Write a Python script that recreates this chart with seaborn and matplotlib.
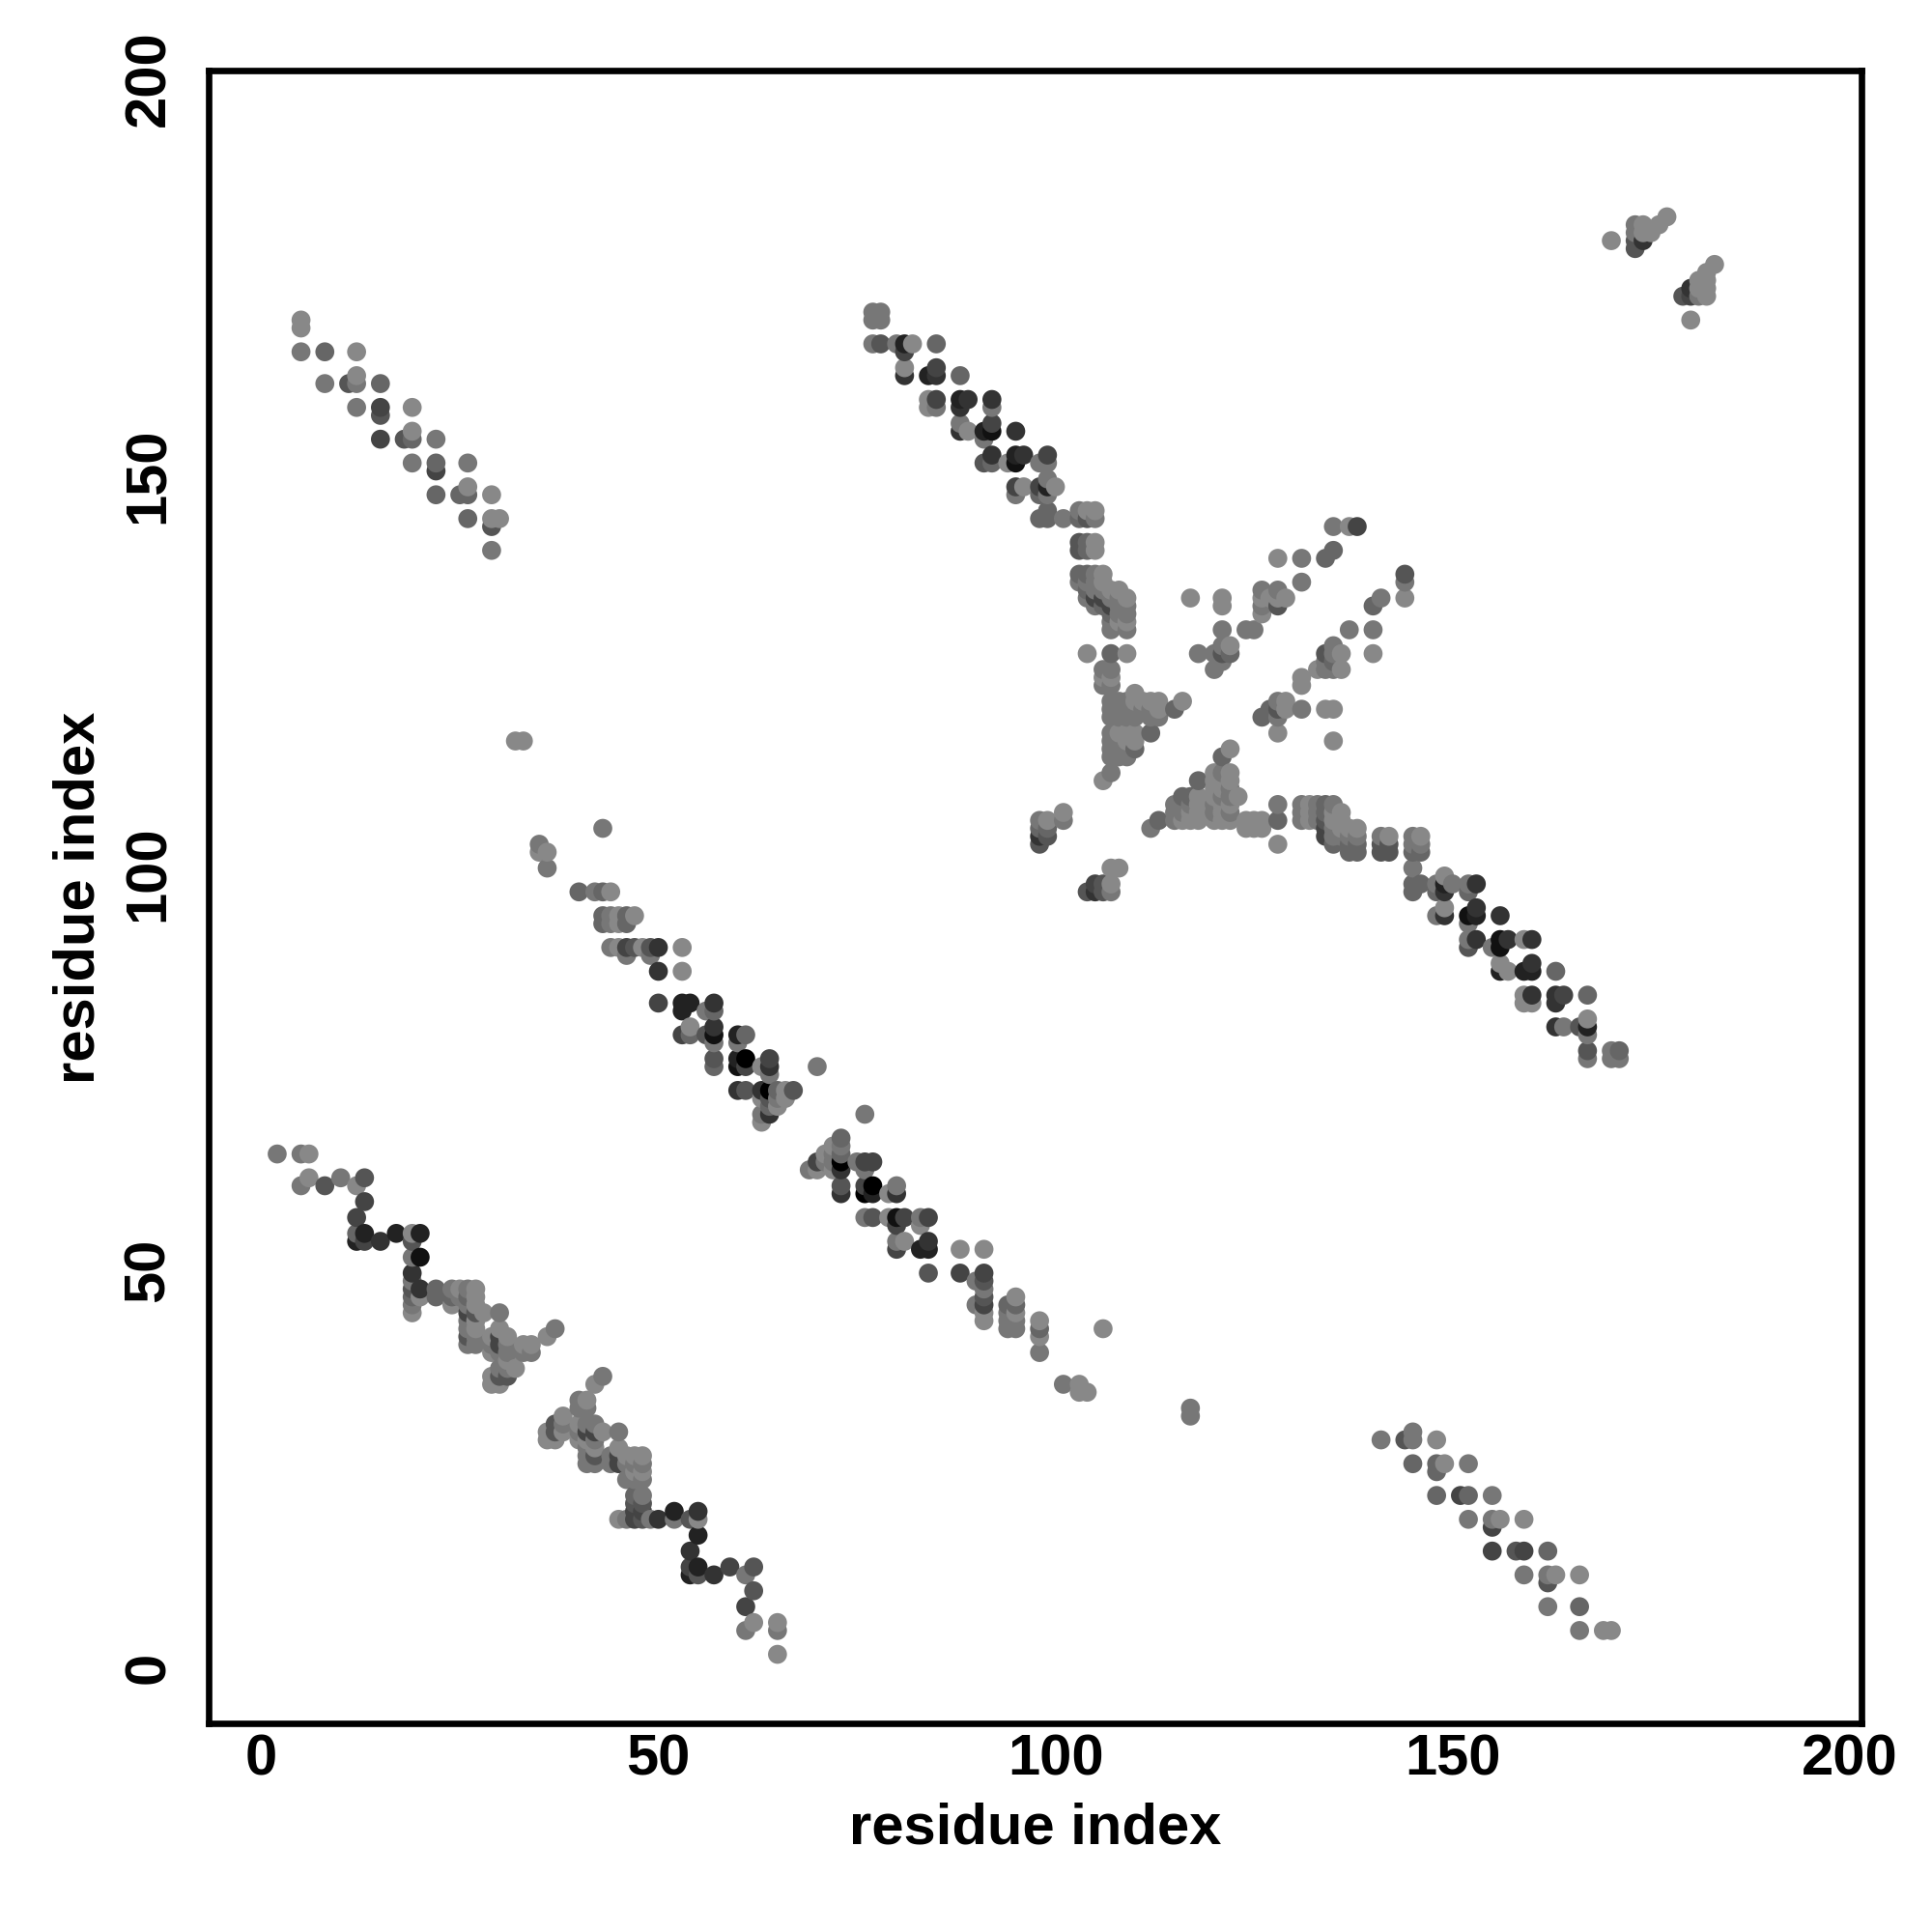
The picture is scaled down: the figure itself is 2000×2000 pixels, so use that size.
import pandas as pd
import matplotlib
matplotlib.use("Agg")
import matplotlib.pyplot as plt
from matplotlib.transforms import ScaledTranslation
import seaborn as sns

# =========================================================
# 1. contacts: (residue i, residue j, strength)
#    strength 0 = lightest dot, 8 = black dot
# =========================================================
band_a_head = [
    (2, 65, 1), (5, 65, 1), (6, 65, 0), (5, 61, 1), (6, 62, 0), (8, 61, 3), (10, 62, 1),
    (12, 61, 0), (13, 62, 3), (13, 59, 4), (12, 57, 4), (12, 55, 2), (13, 55, 6), (12, 54, 6),
    (13, 54, 4), (15, 54, 5), (17, 55, 6), (19, 55, 0), (20, 55, 6), (19, 54, 3), (19, 52, 1),
    (20, 52, 7), (19, 50, 5), (19, 49, 1), (19, 48, 3), (20, 48, 5), (19, 47, 2), (20, 47, 0),
    (19, 46, 1), (19, 45, 0), (22, 48, 2), (22, 47, 2),
]
band_a_blob = [
    (24, 48, 1), (25, 48, 0), (26, 48, 1), (27, 48, 0), (24, 47, 2), (25, 47, 1), (26, 47, 2),
    (27, 47, 0), (24, 46, 0), (26, 46, 1), (27, 46, 0), (26, 45, 4), (27, 45, 3), (28, 45, 0),
    (30, 45, 1), (26, 44, 1), (27, 44, 0), (26, 43, 1), (27, 43, 0), (30, 43, 0), (26, 42, 3),
    (27, 42, 1), (26, 41, 1), (27, 41, 1), (29, 42, 0), (30, 42, 4), (31, 42, 0), (29, 41, 1),
    (30, 41, 4), (31, 41, 1), (29, 40, 0), (30, 40, 1), (31, 40, 1), (31, 39, 0), (33, 41, 0),
    (34, 41, 0), (33, 40, 1), (34, 40, 1), (36, 42, 0), (37, 43, 1), (30, 38, 1), (31, 38, 1),
    (32, 38, 0), (29, 37, 0), (30, 37, 3), (31, 37, 3), (29, 36, 0), (30, 36, 0),
]
band_a_second = [
    (43, 37, 1), (42, 36, 0), (40, 34, 1), (41, 34, 0), (40, 33, 1), (41, 33, 1), (38, 32, 0),
    (37, 31, 3), (38, 31, 1), (36, 30, 0), (37, 30, 3), (38, 30, 0), (36, 29, 0), (37, 29, 0),
    (40, 31, 0), (41, 31, 1), (42, 31, 1), (40, 30, 1), (41, 30, 4), (42, 30, 4), (43, 30, 0),
    (45, 30, 1), (40, 29, 0), (41, 29, 0), (42, 29, 1), (41, 28, 1), (42, 28, 0), (41, 27, 1),
    (42, 27, 3), (41, 26, 1), (42, 26, 1), (44, 27, 1), (44, 26, 1), (45, 28, 0), (45, 27, 4),
    (45, 26, 4), (46, 27, 0), (47, 27, 0), (48, 27, 0), (46, 26, 1), (47, 26, 1), (48, 26, 1),
    (47, 25, 0), (48, 25, 0), (46, 24, 1), (47, 24, 1), (48, 24, 1), (47, 22, 2), (48, 22, 1),
    (47, 21, 3), (48, 21, 3), (47, 20, 4), (48, 20, 4), (45, 19, 0), (46, 19, 1), (47, 19, 4),
    (48, 19, 3), (49, 19, 1), (50, 19, 5), (52, 20, 6), (52, 19, 1), (54, 19, 3), (55, 20, 5),
    (55, 19, 0), (55, 17, 6), (54, 15, 5), (54, 13, 4), (55, 13, 6), (54, 12, 6), (55, 12, 3),
    (57, 12, 5), (59, 13, 4), (61, 12, 1), (62, 13, 3), (62, 10, 3), (61, 8, 4), (62, 6, 0),
    (61, 5, 1), (65, 6, 0), (65, 5, 1), (65, 2, 0),
]
band_b_upper = [
    (32, 117, 0), (33, 117, 0), (35, 104, 1), (35, 103, 0), (36, 103, 0), (36, 101, 1), (43, 106, 1),
    (40, 98, 2), (42, 98, 1), (43, 98, 2), (44, 98, 0), (43, 95, 2), (44, 95, 1), (45, 95, 0),
    (46, 95, 2), (47, 95, 0), (43, 94, 2), (44, 94, 1), (45, 94, 0), (46, 94, 2), (44, 91, 1),
    (45, 91, 0), (46, 91, 4), (47, 91, 3), (48, 91, 0), (49, 91, 3), (50, 91, 5), (46, 90, 1),
    (49, 90, 1), (53, 91, 0), (50, 88, 5), (53, 88, 0), (50, 84, 4), (53, 84, 6), (54, 84, 6),
    (53, 83, 6), (56, 83, 1), (57, 84, 5), (57, 83, 2), (53, 80, 4), (54, 81, 0), (54, 80, 2),
    (56, 80, 3), (57, 81, 5), (57, 80, 7), (57, 79, 1), (60, 80, 6), (61, 80, 2), (60, 79, 1),
    (57, 77, 3), (57, 76, 2), (60, 77, 6), (61, 77, 8), (60, 76, 7), (61, 76, 4), (63, 76, 0),
    (64, 77, 4), (64, 76, 5), (64, 75, 1), (70, 76, 1), (60, 73, 5), (61, 73, 3), (63, 73, 5),
    (64, 73, 8), (65, 73, 2), (66, 73, 0), (67, 73, 3), (63, 72, 0), (64, 72, 3), (65, 72, 1),
    (66, 72, 0), (64, 71, 2), (65, 71, 0), (63, 70, 1), (64, 70, 5), (63, 69, 0), (76, 70, 1),
]
band_b_lower = [
    (73, 67, 2), (72, 66, 0), (73, 66, 1), (71, 65, 0), (72, 65, 1), (73, 65, 2), (70, 64, 4),
    (71, 64, 1), (72, 64, 1), (73, 64, 8), (69, 63, 1), (70, 63, 0), (72, 63, 0), (73, 63, 5),
    (75, 64, 1), (76, 64, 4), (77, 64, 4), (76, 63, 1), (73, 61, 3), (73, 60, 5), (76, 61, 4),
    (77, 61, 8), (76, 60, 8), (77, 60, 6), (79, 60, 0), (80, 61, 1), (80, 60, 5), (76, 57, 1),
    (77, 57, 3), (79, 57, 0), (80, 57, 7), (81, 57, 4), (80, 56, 4), (83, 57, 1), (84, 57, 4),
    (83, 56, 0), (80, 54, 1), (81, 54, 0), (80, 53, 4), (83, 53, 6), (84, 54, 5), (84, 53, 6),
    (84, 50, 3), (88, 53, 0), (91, 53, 0), (88, 50, 4), (91, 50, 4), (90, 49, 1), (91, 49, 3),
    (91, 48, 1), (91, 47, 3), (91, 46, 4), (90, 46, 1), (91, 45, 0), (91, 44, 0), (95, 47, 0),
    (94, 46, 2), (95, 46, 2), (94, 45, 1), (95, 45, 0), (94, 44, 1), (95, 44, 1), (94, 43, 1),
    (95, 43, 1), (98, 44, 0), (98, 43, 2), (98, 42, 0), (98, 40, 1), (106, 43, 0), (101, 36, 1),
    (103, 36, 0), (103, 35, 0), (104, 35, 0), (117, 33, 1), (117, 32, 1),
]
corner_low_right = [
    (141, 29, 1), (144, 29, 3), (145, 30, 1), (145, 29, 1), (148, 29, 0), (145, 26, 2), (148, 26, 2),
    (149, 26, 0), (148, 25, 2), (152, 26, 1), (148, 22, 2), (151, 22, 4), (152, 22, 2), (155, 22, 1),
    (152, 19, 1), (155, 19, 1), (156, 19, 0), (155, 18, 4), (159, 19, 0), (155, 15, 4), (158, 15, 3),
    (159, 15, 4), (162, 15, 2), (159, 12, 1), (162, 12, 1), (163, 12, 0), (162, 11, 3), (166, 12, 0),
    (162, 8, 1), (166, 8, 2), (166, 5, 1), (169, 5, 0), (170, 5, 0),
]
corner_up_left = [
    (5, 170, 0), (5, 169, 0), (5, 166, 1), (8, 166, 2), (12, 166, 0), (8, 162, 1), (11, 162, 3),
    (12, 163, 0), (12, 162, 1), (15, 162, 2), (12, 159, 1), (15, 159, 4), (15, 158, 3), (19, 159, 0),
    (15, 155, 4), (18, 155, 3), (19, 156, 0), (19, 155, 2), (22, 155, 1), (19, 152, 1), (22, 152, 2),
    (22, 151, 4), (26, 152, 1), (22, 148, 2), (25, 148, 2), (26, 149, 0), (26, 148, 2), (29, 148, 0),
    (26, 145, 2), (29, 145, 0), (30, 145, 0), (29, 144, 3), (29, 141, 1),
]
corner_up_right = [
    (170, 180, 0), (173, 182, 1), (174, 182, 0), (173, 181, 1), (174, 181, 0), (175, 181, 0), (173, 180, 3),
    (174, 180, 5), (173, 179, 3), (176, 182, 0), (177, 183, 0), (183, 177, 0), (182, 176, 0), (181, 175, 0),
    (182, 175, 0), (180, 174, 5), (181, 174, 0), (182, 174, 0), (179, 173, 3), (180, 173, 4), (181, 173, 1),
    (182, 173, 0), (180, 170, 0),
]
band_c_upper = [
    (77, 171, 1), (78, 171, 1), (77, 170, 1), (78, 170, 1), (77, 167, 1), (78, 167, 3), (80, 167, 1),
    (81, 167, 6), (82, 167, 0), (81, 166, 4), (81, 164, 0), (81, 163, 5), (85, 167, 2), (84, 163, 6),
    (85, 164, 4), (85, 163, 5), (88, 163, 2), (84, 160, 0), (85, 160, 4), (84, 159, 0), (85, 159, 1),
    (88, 160, 6), (89, 160, 5), (88, 159, 5), (92, 160, 5), (92, 159, 1), (88, 157, 1), (89, 156, 0),
    (88, 156, 5), (91, 156, 6), (92, 157, 4), (92, 156, 7), (91, 155, 1), (95, 156, 5), (92, 153, 5),
    (91, 152, 3), (92, 152, 2), (94, 152, 0), (95, 153, 6), (95, 152, 7), (96, 153, 5), (98, 152, 1),
    (99, 153, 4), (99, 152, 1), (95, 149, 4), (96, 149, 0), (95, 148, 1), (98, 149, 4), (99, 150, 1),
    (99, 149, 6), (100, 149, 0), (98, 148, 2), (99, 148, 1), (98, 145, 2), (99, 146, 2), (99, 145, 2),
    (101, 145, 1), (103, 146, 1), (104, 146, 0), (105, 146, 0), (103, 145, 2), (104, 145, 3), (105, 145, 1),
    (103, 142, 3), (104, 142, 2), (105, 142, 0), (103, 141, 3), (104, 141, 2), (105, 141, 0),
]
band_c_knot = [
    (103, 138, 2), (104, 138, 2), (105, 138, 1), (106, 138, 0), (103, 137, 1), (104, 137, 1), (105, 137, 1),
    (106, 137, 0), (104, 136, 2), (105, 136, 1), (106, 136, 1), (107, 136, 0), (108, 136, 0), (104, 135, 1),
    (105, 135, 4), (106, 135, 4), (107, 135, 1), (108, 135, 1), (109, 135, 0), (105, 134, 1), (106, 134, 2),
    (107, 134, 4), (108, 134, 1), (109, 134, 1), (107, 133, 2), (108, 133, 1), (109, 133, 1), (107, 132, 1),
    (108, 132, 0), (109, 132, 0), (107, 131, 1), (109, 131, 1), (104, 128, 0), (107, 128, 2), (109, 128, 0),
    (106, 126, 1), (107, 126, 1), (106, 125, 0), (107, 125, 0), (106, 124, 1), (107, 124, 1),
]
x_left_arm = [
    (107, 122, 1), (108, 122, 1), (109, 122, 1), (110, 122, 0), (110, 123, 0), (107, 121, 1), (108, 121, 1),
    (109, 121, 1), (110, 121, 1), (111, 122, 0), (107, 120, 1), (108, 120, 1), (109, 120, 1), (110, 120, 1),
    (111, 121, 1), (112, 122, 0), (113, 122, 0), (112, 121, 1), (113, 121, 0), (112, 120, 1), (113, 120, 1),
    (115, 121, 2), (116, 122, 0), (112, 118, 2), (107, 118, 1), (108, 118, 0), (109, 118, 0), (110, 118, 0),
    (107, 117, 1), (108, 117, 1), (109, 117, 0), (110, 117, 0), (107, 116, 1), (108, 116, 1), (109, 116, 1),
    (110, 116, 2), (107, 115, 1), (108, 115, 1), (109, 115, 1), (107, 113, 1), (106, 112, 0), (98, 107, 1),
    (99, 107, 0), (98, 106, 2), (99, 106, 2), (98, 105, 5), (99, 105, 3), (98, 104, 3), (101, 108, 0),
    (101, 107, 1), (107, 101, 0), (108, 101, 0), (104, 98, 3), (105, 99, 4), (105, 98, 5), (106, 99, 3),
    (106, 98, 3), (107, 99, 0), (107, 98, 1),
]
x_lower_arm = [
    (122, 116, 0), (121, 115, 2), (120, 113, 0), (121, 113, 1), (122, 113, 0), (120, 112, 0), (121, 112, 0),
    (122, 112, 0), (118, 112, 2), (120, 111, 0), (121, 111, 0), (122, 111, 1), (120, 110, 0), (121, 110, 1),
    (122, 110, 1), (123, 110, 0), (118, 110, 0), (117, 110, 2), (116, 110, 2), (115, 109, 1), (116, 109, 1),
    (117, 109, 1), (118, 109, 0), (115, 108, 1), (116, 108, 1), (117, 108, 0), (118, 108, 0), (115, 107, 1),
    (116, 107, 0), (117, 107, 0), (118, 107, 0), (120, 109, 1), (121, 109, 0), (122, 109, 0), (120, 108, 1),
    (121, 108, 0), (122, 108, 1), (120, 107, 0), (121, 107, 0), (122, 107, 0), (113, 107, 2), (112, 106, 1),
    (124, 107, 0), (125, 107, 0), (126, 107, 0), (124, 106, 0), (125, 106, 0), (126, 106, 0), (128, 109, 1),
    (128, 107, 2), (128, 104, 0),
]
band_d_start = [
    (131, 109, 1), (132, 109, 0), (133, 109, 1), (134, 109, 2), (135, 109, 1), (131, 108, 1), (132, 108, 0),
    (133, 108, 1), (134, 108, 2), (135, 108, 0), (136, 108, 0), (131, 107, 1), (132, 107, 0), (133, 107, 1),
    (134, 107, 3), (135, 107, 0), (136, 107, 0), (134, 106, 4), (135, 106, 1), (136, 106, 0), (134, 105, 4),
    (135, 105, 1), (136, 105, 1), (135, 104, 2), (137, 106, 0), (138, 106, 0), (137, 105, 1), (138, 105, 1),
    (137, 104, 2), (138, 104, 2), (137, 103, 2), (138, 103, 2), (141, 105, 1), (142, 105, 0), (141, 104, 3),
    (142, 104, 3), (141, 103, 3), (142, 103, 3), (145, 105, 1), (146, 105, 0), (145, 104, 1), (146, 104, 1),
    (145, 103, 2), (146, 103, 2), (145, 101, 1), (145, 99, 2), (146, 99, 2), (145, 98, 2), (148, 99, 1),
    (149, 100, 0), (149, 99, 6), (150, 99, 1), (148, 98, 2), (149, 98, 5), (152, 99, 1), (153, 99, 5),
    (152, 98, 2), (148, 95, 1), (149, 96, 0), (149, 95, 5), (152, 95, 7), (153, 96, 5), (153, 95, 6),
    (152, 94, 1), (156, 95, 5), (152, 92, 1), (153, 92, 5), (152, 91, 3), (155, 91, 1), (156, 92, 7),
    (157, 92, 5), (156, 91, 7), (159, 92, 0), (160, 92, 5), (156, 89, 0), (156, 88, 6), (157, 88, 0),
    (159, 88, 6), (160, 89, 5), (160, 88, 6), (163, 88, 2), (159, 85, 0), (160, 85, 5), (159, 84, 0),
    (160, 84, 0), (163, 85, 5), (164, 85, 4), (163, 84, 5), (167, 85, 2), (163, 81, 5), (164, 81, 1),
    (166, 81, 3), (167, 82, 0), (167, 81, 6), (167, 80, 1), (167, 78, 3), (167, 77, 1), (170, 78, 1),
    (171, 78, 2), (170, 77, 1), (171, 77, 1),
]
x_upper_arm = [
    (135, 144, 1), (137, 144, 0), (138, 144, 4), (135, 141, 2), (134, 140, 2), (131, 140, 1), (128, 140, 0),
    (131, 137, 1), (144, 138, 3), (144, 137, 1), (144, 135, 0), (141, 135, 1), (140, 134, 2), (126, 136, 1),
    (128, 136, 1), (126, 135, 0), (126, 134, 1), (126, 133, 0), (127, 135, 0), (128, 135, 0), (129, 135, 0),
    (128, 134, 3), (121, 135, 0), (121, 134, 0), (121, 131, 1), (124, 131, 1), (125, 131, 1), (137, 131, 1),
    (140, 131, 1), (140, 128, 0), (135, 129, 1), (134, 128, 3), (135, 128, 1), (136, 128, 0), (133, 126, 0),
    (134, 126, 1), (135, 126, 1), (136, 126, 0), (134, 127, 1), (135, 127, 2), (131, 125, 0), (131, 124, 0),
    (117, 135, 0), (118, 128, 1), (120, 128, 1), (121, 129, 1), (122, 129, 0), (121, 128, 3), (122, 128, 2),
    (121, 127, 1), (120, 126, 1), (126, 120, 2), (127, 121, 2), (128, 122, 1), (129, 122, 0), (128, 121, 3),
    (129, 121, 0), (128, 120, 1), (128, 118, 0), (131, 121, 1), (134, 121, 0), (135, 121, 0), (135, 117, 0),
]

segments = [
    band_a_head, band_a_blob, band_a_second, band_b_upper, band_b_lower, corner_low_right,
    corner_up_left, corner_up_right, band_c_upper, band_c_knot, x_left_arm, x_lower_arm,
    band_d_start, x_upper_arm,
]
tick_values = [0, 50, 100, 150, 200]

# =========================================================
# 2. table, sorted the way the dots overlap in the picture
# =========================================================
rows = [row for seg in segments for row in seg]
df = pd.DataFrame(rows, columns=["i", "j", "strength"])
df = df.drop_duplicates(subset=["i", "j"]).sort_values(["i", "j"]).reset_index(drop=True)

# =========================================================
# 3. style
# =========================================================
sns.set_theme(style="white")
plt.rcParams["font.family"] = ["Liberation Sans", "DejaVu Sans"]
plt.rcParams["font.weight"] = "bold"

fig = plt.figure(figsize=(10, 10), dpi=200)
ax = fig.add_axes([216 / 2000, 216 / 2000, 1711 / 2000, 1711 / 2000])

# =========================================================
# 4. scatter
# =========================================================
sns.scatterplot(
    data=df,
    x="i",
    y="j",
    hue="strength",
    palette="gray_r",
    hue_norm=(-7, 8),
    s=50,
    linewidth=0,
    legend=False,
    ax=ax,
)

ax.set_xlim(-6.63, 201.5)
ax.set_ylim(-6.69, 201.42)
ax.set_xticks(tick_values)
ax.set_yticks(tick_values)
ax.tick_params(axis="x", length=2.2, width=1, color="black", labelsize=21.5, pad=1.5, labelcolor="black")
ax.tick_params(axis="y", length=2.2, width=1, color="black", labelsize=21.5, pad=10, labelcolor="black")
# y labels sit a little high in the reference
label_shift = ScaledTranslation(0, 1.1 / 72, fig.dpi_scale_trans)
for label in ax.get_yticklabels():
    label.set_rotation(90)
    label.set_va("center")
    label.set_transform(label.get_transform() + label_shift)

for spine in ax.spines.values():
    spine.set_color("black")
    spine.set_linewidth(2.4)

ax.set_xlabel("residue index", fontsize=21.5, fontweight="bold", color="black")
ax.set_ylabel("residue index", fontsize=21.5, fontweight="bold", color="black")
ax.xaxis.set_label_coords(0.5, -0.0475)
ax.yaxis.set_label_coords(-0.0625, 0.4995)

fig.savefig("out.png", dpi=200, facecolor="white")
